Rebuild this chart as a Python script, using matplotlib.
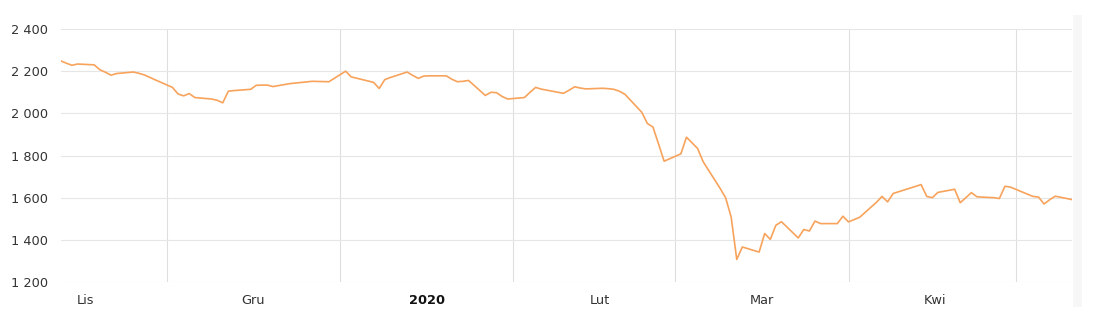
"""Index close chart, Nov 2019 - May 2020 (Highcharts-like look)."""

import matplotlib
matplotlib.use("Agg")

import matplotlib.pyplot as plt
import matplotlib.dates as mdates
from matplotlib.patches import Rectangle
import pandas as pd

# Trading days and closing values
DATES = [
    "2019-11-12", "2019-11-13", "2019-11-14", "2019-11-15", "2019-11-18",
    "2019-11-19", "2019-11-20", "2019-11-21", "2019-11-22", "2019-11-25",
    "2019-11-26", "2019-11-27", "2019-11-28", "2019-11-29", "2019-12-02",
    "2019-12-03", "2019-12-04", "2019-12-05", "2019-12-06", "2019-12-09",
    "2019-12-10", "2019-12-11", "2019-12-12", "2019-12-13", "2019-12-16",
    "2019-12-17", "2019-12-18", "2019-12-19", "2019-12-20", "2019-12-23",
    "2019-12-27", "2019-12-30", "2020-01-02", "2020-01-03", "2020-01-07",
    "2020-01-08", "2020-01-09", "2020-01-10", "2020-01-13", "2020-01-14",
    "2020-01-15", "2020-01-16", "2020-01-17", "2020-01-20", "2020-01-21",
    "2020-01-22", "2020-01-23", "2020-01-24", "2020-01-27", "2020-01-28",
    "2020-01-29", "2020-01-30", "2020-01-31", "2020-02-03", "2020-02-04",
    "2020-02-05", "2020-02-06", "2020-02-07", "2020-02-10", "2020-02-11",
    "2020-02-12", "2020-02-13", "2020-02-14", "2020-02-17", "2020-02-18",
    "2020-02-19", "2020-02-20", "2020-02-21", "2020-02-24", "2020-02-25",
    "2020-02-26", "2020-02-27", "2020-02-28", "2020-03-02", "2020-03-03",
    "2020-03-04", "2020-03-05", "2020-03-06", "2020-03-09", "2020-03-10",
    "2020-03-11", "2020-03-12", "2020-03-13", "2020-03-16", "2020-03-17",
    "2020-03-18", "2020-03-19", "2020-03-20", "2020-03-23", "2020-03-24",
    "2020-03-25", "2020-03-26", "2020-03-27", "2020-03-30", "2020-03-31",
    "2020-04-01", "2020-04-02", "2020-04-03", "2020-04-06", "2020-04-07",
    "2020-04-08", "2020-04-09", "2020-04-14", "2020-04-15", "2020-04-16",
    "2020-04-17", "2020-04-20", "2020-04-21", "2020-04-22", "2020-04-23",
    "2020-04-24", "2020-04-27", "2020-04-28", "2020-04-29", "2020-04-30",
    "2020-05-04", "2020-05-05", "2020-05-06", "2020-05-07", "2020-05-08",
    "2020-05-11",
]

VALUES = [
    2249, 2238, 2228, 2234, 2230,
    2207, 2195, 2181, 2189, 2196,
    2190, 2182, 2170, 2158, 2123,
    2092, 2083, 2094, 2075, 2068,
    2062, 2050, 2105, 2108, 2114,
    2133, 2134, 2134, 2127, 2141,
    2152, 2150, 2200, 2173, 2147,
    2118, 2160, 2170, 2196, 2180,
    2166, 2177, 2178, 2178, 2162,
    2150, 2152, 2156, 2085, 2100,
    2098, 2080, 2068, 2075, 2100,
    2123, 2115, 2110, 2095, 2110,
    2126, 2120, 2116, 2119, 2117,
    2114, 2105, 2090, 2005, 1952,
    1935, 1855, 1773, 1808, 1887,
    1860, 1833, 1770, 1645, 1600,
    1508, 1307, 1366, 1342, 1430,
    1402, 1469, 1486, 1409, 1449,
    1442, 1489, 1477, 1477, 1512,
    1485, 1496, 1507, 1578, 1606,
    1580, 1620, 1662, 1606, 1600,
    1625, 1640, 1576, 1600, 1624,
    1604, 1600, 1596, 1654, 1650,
    1606, 1603, 1570, 1590, 1607,
    1591,
]

MONTH_LABELS = ["Lis", "Gru", "2020", "Lut", "Mar", "Kwi"]
LABEL_DATES = ["2019-11-16 12:00", "2019-12-16 12:00", "2020-01-16 12:00",
               "2020-02-16 12:00", "2020-03-16 12:00", "2020-04-16 12:00"]
Y_TICKS = [1200, 1400, 1600, 1800, 2000, 2200, 2400]

LINE_COLOR = "#f7a35c"
GRID_COLOR = "#e6e6e6"
TEXT_COLOR = "#333333"

dates = pd.to_datetime(DATES)

fig = plt.figure(figsize=(11.04, 3.19), dpi=100)
ax = fig.add_axes([0.055, 0.116, 0.916, 0.793])

ax.plot(dates, VALUES, color=LINE_COLOR, linewidth=1.2, solid_joinstyle="round")

ax.set_xlim(dates[0], dates[-1])
ax.set_ylim(1200, 2400)

# y axis
ax.set_yticks(Y_TICKS)
ax.set_yticklabels([f"{v:,}".replace(",", " ") for v in Y_TICKS])
ax.tick_params(axis="y", length=0, pad=9, labelsize=9.3, colors=TEXT_COLOR)

# x axis: grid at month starts, labels mid-month
ax.xaxis.set_major_locator(mdates.MonthLocator())
ax.xaxis.set_major_formatter(plt.NullFormatter())
ax.set_xticks(pd.to_datetime(LABEL_DATES), minor=True)
ax.set_xticklabels(MONTH_LABELS, minor=True)
ax.tick_params(axis="x", which="both", length=0)
ax.tick_params(axis="x", which="minor", pad=9, labelsize=9.3, colors=TEXT_COLOR)
for lbl in ax.xaxis.get_minorticklabels():
    if lbl.get_text() == "2020":
        lbl.set_fontweight("bold")
        lbl.set_color("#111111")

ax.grid(True, axis="y", color=GRID_COLOR, linewidth=0.8)
ax.grid(True, axis="x", which="major", color="#dedede", linewidth=0.75)
ax.set_axisbelow(True)

for side in ["top", "right", "left", "bottom"]:
    ax.spines[side].set_visible(False)

# faint scrollbar strip on the right edge
fig.patches.append(Rectangle((1072.5 / 1104, 1 - 307 / 319), 9 / 1104, 292 / 319,
                             transform=fig.transFigure, facecolor="#f7f7f7",
                             edgecolor="none"))

fig.savefig("out.png", dpi=100, facecolor="white", edgecolor="none")
plt.close(fig)
